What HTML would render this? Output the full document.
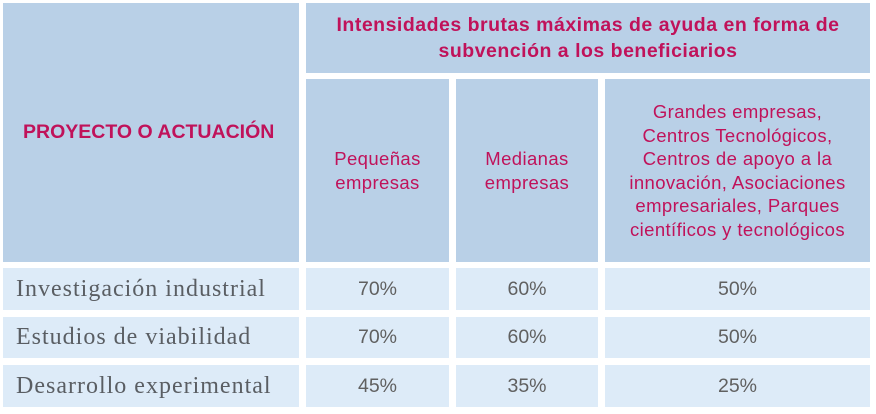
<!DOCTYPE html>
<html><head><meta charset="utf-8"><style>
body{margin:0;width:876px;height:414px;background:#fff;position:relative;overflow:hidden;font-family:"Liberation Sans",sans-serif}
.c{position:absolute;display:flex;align-items:center;justify-content:center;text-align:center;box-sizing:border-box;white-space:nowrap}
.h{background:#b9d0e7;color:#c0125a}
.b{background:#ddebf8;color:#606060;font-size:19.5px}
.l{justify-content:flex-start;padding-left:13px;font-family:"Liberation Serif",serif;font-size:24px;letter-spacing:1px;color:#5a5e63}
.s{font-size:18.5px;line-height:23.5px;letter-spacing:0.4px}
</style></head><body>
<div class="c h" style="left:3px;top:3px;width:296px;height:259px;font-weight:bold;font-size:19.5px;justify-content:flex-start;padding-left:20px">PROYECTO O ACTUACIÓN</div>
<div class="c h" style="left:306px;top:3px;width:564px;height:70px;font-weight:bold;font-size:19.5px;letter-spacing:0.5px;line-height:26px">Intensidades brutas máximas de ayuda en forma de<br>subvención a los beneficiarios</div>
<div class="c h s" style="left:306px;top:79px;width:143px;height:183px">Pequeñas<br>empresas</div>
<div class="c h s" style="left:456px;top:79px;width:142px;height:183px">Medianas<br>empresas</div>
<div class="c h s" style="left:605px;top:79px;width:265px;height:183px">Grandes empresas,<br>Centros Tecnológicos,<br>Centros de apoyo a la<br>innovación, Asociaciones<br>empresariales, Parques<br>científicos y tecnológicos</div>

<div class="c b l" style="left:3px;top:268px;width:296px;height:42px">Investigación industrial</div>
<div class="c b" style="left:306px;top:268px;width:143px;height:42px">70%</div>
<div class="c b" style="left:456px;top:268px;width:142px;height:42px">60%</div>
<div class="c b" style="left:605px;top:268px;width:265px;height:42px">50%</div>

<div class="c b l" style="left:3px;top:317px;width:296px;height:41px">Estudios de viabilidad</div>
<div class="c b" style="left:306px;top:317px;width:143px;height:41px">70%</div>
<div class="c b" style="left:456px;top:317px;width:142px;height:41px">60%</div>
<div class="c b" style="left:605px;top:317px;width:265px;height:41px">50%</div>

<div class="c b l" style="left:3px;top:365px;width:296px;height:42px">Desarrollo experimental</div>
<div class="c b" style="left:306px;top:365px;width:143px;height:42px">45%</div>
<div class="c b" style="left:456px;top:365px;width:142px;height:42px">35%</div>
<div class="c b" style="left:605px;top:365px;width:265px;height:42px">25%</div>
</body></html>
